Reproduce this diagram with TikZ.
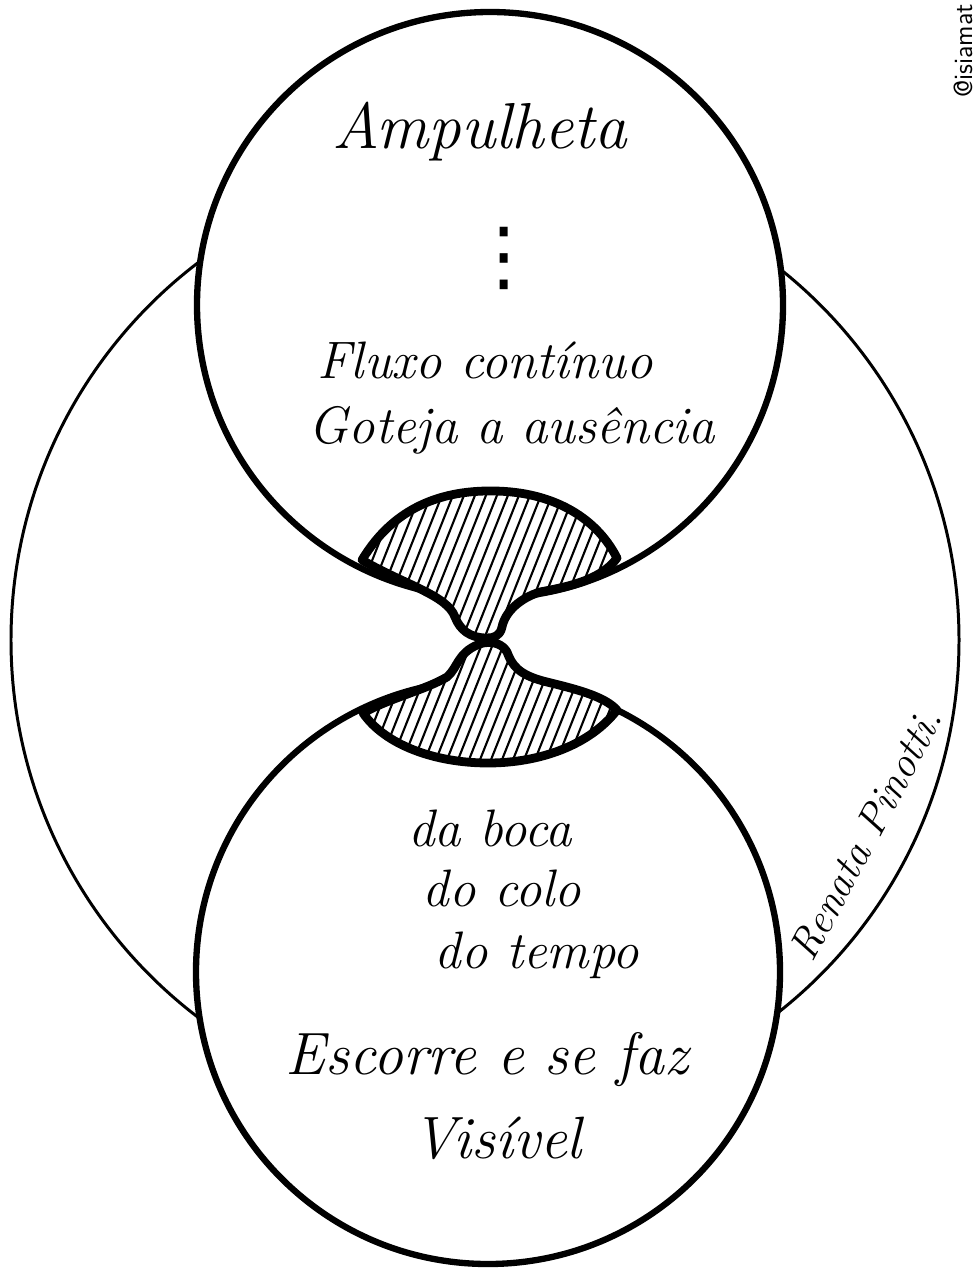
\documentclass[tikz,border=0pt]{standalone}
\usepackage{fontspec}
\newfontfamily\dejavu{DejaVu Sans}
\usepackage{tikz}
\usetikzlibrary{calc}

% outline of the sand in the upper and lower bulb
\newcommand{\sandtop}{(362,560) .. controls (395,505) and (445,490) .. (495,491)
    .. controls (550,492) and (595,515) .. (617,558)
    .. controls (600,582) and (560,588) .. (540,592)
    .. controls (520,598) and (505,612) .. (502,627)
    .. controls (500,636) and (494,638) .. (487,638)
    .. controls (470,638) and (460,630) .. (455,617)
    .. controls (447,595) and (405,585) .. (362,560) -- cycle}
\newcommand{\sandbottom}{(483,643) .. controls (495,641) and (503,645) .. (507,652)
    .. controls (512,665) and (518,675) .. (547,682)
    .. controls (580,690) and (605,697) .. (617,710)
    .. controls (590,745) and (540,763) .. (488,763)
    .. controls (435,763) and (385,745) .. (363,713)
    .. controls (390,698) and (425,690) .. (447,677)
    .. controls (458,668) and (458,650) .. (483,643) -- cycle}

\begin{document}
\begin{tikzpicture}[x=0.02cm, y=-0.02cm,
    % --- Styles ---
    outer/.style={line width=1.7pt},
    bulb/.style={line width=3.6pt, fill=white},
    hatchline/.style={line width=1.2pt},
    sand/.style={line width=5pt, line join=round, fill=white,
                 path picture={\foreach \x in {200,211,...,650}
                   \draw[hatchline] (\x,800) -- ++(135,-340);}},
    verse/.style={font=\fontsize{30}{36}\selectfont\itshape, inner sep=0pt},
    bigverse/.style={verse, font=\fontsize{34}{40}\selectfont\itshape},
    title/.style={verse, font=\fontsize{37}{44}\selectfont\itshape},
    pausedots/.style={font=\fontsize{44}{50}\selectfont\dejavu, inner sep=0pt},
    signature/.style={font=\fontsize{24}{28}\selectfont\itshape, inner sep=0pt},
    handle/.style={font=\fontsize{15}{18}\selectfont\sffamily, inner sep=0pt},
]
\useasboundingbox (0,0) rectangle (976,1271);
\fill[white] (0,0) rectangle (976,1271);

% === Outer circle and the two bulbs ===
\draw[outer] (485,640) circle[radius=474];
\draw[bulb] (490,305) circle[radius=293];
\draw[bulb] (488,972) circle[radius=292];

% === Sand in the neck ===
\draw[sand] \sandtop;
\draw[sand] \sandbottom;

% === Upper bulb ===
\node[title] (ampulheta) at (480,132) {Ampulheta};
\node[pausedots] (pause) at (504,258) {⋮};
\node[verse] (fluxo) at (485,360) {Fluxo contínuo};
\node[verse] (goteja) at (512,430) {Goteja a ausência};

% === Lower bulb ===
\node[verse] (boca) at (490,828) {da boca};
\node[verse] (colo) at (502,888) {do colo};
\node[verse] (tempo) at (537,955) {do tempo};
\node[bigverse] (escorre) at (487,1060) {Escorre e se faz};
\node[bigverse] (visivel) at (497,1138) {Visível};

% === Signature and handle ===
\node[signature, rotate=62] (signature) at (866,834) {Renata Pinotti.};
\node[handle, rotate=90, anchor=west] (handle) at (963,98) {@isiamat};

\end{tikzpicture}
\end{document}
